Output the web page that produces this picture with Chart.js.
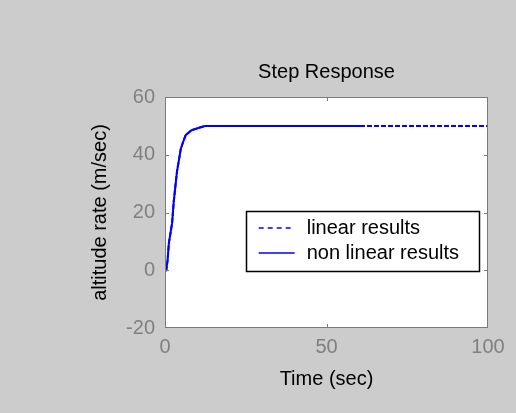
<!DOCTYPE html>
<html>
<head>
<meta charset="utf-8">
<script src="https://cdn.jsdelivr.net/npm/chart.js@4/dist/chart.umd.min.js"></script>
<style>
  html, body { margin: 0; padding: 0; background: #cccccc; }
  canvas { display: block; }
</style>
</head>
<body>
<canvas id="step_chart" width="516" height="413"></canvas>
<script>
// step response of the altitude rate loop
var time_nonlinear = [0, 0.4, 0.8, 1.2, 2.2, 2.7, 3.2, 3.7, 4.3, 4.9, 5.6, 6.4, 8.2, 11.3, 12.5, 61.7];
var rate_nonlinear = [0, 0, 3.5, 9.4, 16.3, 23.7, 28.9, 34.1, 38.1, 42.1, 44.4, 46.8, 48.5, 49.6, 50, 50];
var time_linear = [0, 0.4, 0.8, 1.2, 2.2, 2.7, 3.2, 3.7, 4.3, 4.9, 5.6, 6.4, 8.2, 11.3, 12.5, 100];
var rate_linear = [0, 0, 3.5, 9.4, 16.3, 23.7, 28.9, 34.1, 38.1, 42.1, 44.4, 46.8, 48.5, 49.6, 50, 50];

var series_labels = ['linear results', 'non linear results'];
var x_ticks = [0, 50, 100];
var y_ticks = [-20, 0, 20, 40, 60];

var FONT = "'Liberation Sans', Arial, Helvetica, sans-serif";
var frameColor = '#7a7a7a';

function toPoints(xs, ys) {
    return xs.map(function (x, i) { return { x: x, y: ys[i] }; });
}

// white axes box, grey frame and inward tick marks
var axesBox = {
    id: 'axesBox',
    beforeDatasetsDraw: function (chart) {
        var ctx = chart.ctx, a = chart.chartArea;
        ctx.save();
        ctx.fillStyle = '#ffffff';
        ctx.fillRect(a.left, a.top, a.right - a.left, a.bottom - a.top);
        ctx.restore();
    },
    afterDatasetsDraw: function (chart) {
        var ctx = chart.ctx, a = chart.chartArea;
        var xs = chart.scales.x, ys = chart.scales.y;
        ctx.save();
        ctx.strokeStyle = frameColor;
        ctx.lineWidth = 1;
        ctx.strokeRect(a.left + 0.5, a.top + 0.5, a.right - a.left - 1, a.bottom - a.top - 1);
        ctx.beginPath();
        y_ticks.forEach(function (v) {
            var py = Math.round(ys.getPixelForValue(v)) + 0.5;
            if (py <= a.top + 1 || py >= a.bottom - 1) return;
            ctx.moveTo(a.left, py); ctx.lineTo(a.left + 4, py);
            ctx.moveTo(a.right, py); ctx.lineTo(a.right - 4, py);
        });
        x_ticks.forEach(function (v) {
            var px = Math.round(xs.getPixelForValue(v)) + 0.5;
            if (px <= a.left + 1 || px >= a.right - 1) return;
            ctx.moveTo(px, a.top); ctx.lineTo(px, a.top + 4);
            ctx.moveTo(px, a.bottom); ctx.lineTo(px, a.bottom - 4);
        });
        ctx.stroke();
        ctx.restore();
    }
};

// boxed legend inside the axes, upper right of centre
var boxedLegend = {
    id: 'boxedLegend',
    afterDraw: function (chart) {
        var ctx = chart.ctx, a = chart.chartArea;
        var sets = chart.data.datasets;
        ctx.save();
        ctx.font = '20px ' + FONT;
        var textW = 0;
        sets.forEach(function (ds) { textW = Math.max(textW, ctx.measureText(ds.label).width); });
        var padL = 13, lineLen = 36, gap = 12, padR = 20, rowH = 25;
        var w = padL + lineLen + gap + textW + padR;
        var h = rowH * sets.length + 10;
        var right = a.right - 9;
        var left = right - w;
        var top = a.top + 114;

        ctx.fillStyle = '#ffffff';
        ctx.fillRect(left, top, w, h);
        ctx.strokeStyle = '#000000';
        ctx.lineWidth = 1.5;
        ctx.strokeRect(Math.round(left) + 0.5, top + 0.5, Math.round(w), h);

        sets.forEach(function (ds, i) {
            var cy = top + 17 + i * rowH;
            ctx.beginPath();
            ctx.strokeStyle = ds.borderColor;
            ctx.lineWidth = 1.5;
            ctx.setLineDash(ds.borderDash && ds.borderDash.length ? [5, 4] : []);
            ctx.moveTo(left + padL, cy);
            ctx.lineTo(left + padL + lineLen, cy);
            ctx.stroke();
            ctx.setLineDash([]);
            ctx.fillStyle = '#000000';
            ctx.textBaseline = 'middle';
            ctx.textAlign = 'left';
            ctx.fillText(ds.label, left + padL + lineLen + gap, cy);
        });
        ctx.restore();
    }
};

var ctx = document.getElementById('step_chart').getContext('2d');
var step_chart = new Chart(ctx, {
    type: 'line',
    data: {
        datasets: [
            {
                label: series_labels[0],
                data: toPoints(time_linear, rate_linear),
                borderColor: '#0000ff',
                borderWidth: 2,
                borderDash: [5, 2],
                pointRadius: 0,
                fill: false,
                order: 1
            },
            {
                label: series_labels[1],
                data: toPoints(time_nonlinear, rate_nonlinear),
                borderColor: '#0000ff',
                borderWidth: 2,
                pointRadius: 0,
                fill: false,
                order: 0
            }
        ]
    },
    options: {
        responsive: false,
        animation: false,
        devicePixelRatio: 1,
        layout: { padding: { left: 0, right: 28, top: 0, bottom: 0 } },
        plugins: {
            legend: { display: false },
            tooltip: { enabled: false },
            title: {
                display: true,
                text: 'Step Response',
                fullSize: false,
                color: '#000000',
                font: { family: FONT, size: 20, weight: 'normal' },
                padding: { top: 60.5, bottom: 12.5 }
            }
        },
        scales: {
            x: {
                type: 'linear',
                min: 0,
                max: 100,
                afterBuildTicks: function (scale) {
                    scale.ticks = x_ticks.map(function (v) { return { value: v }; });
                },
                afterFit: function (scale) { scale.height = 85; },
                grid: { display: false, drawTicks: false },
                border: { display: false },
                ticks: {
                    color: '#808080',
                    padding: 7,
                    maxRotation: 0,
                    font: { family: FONT, size: 20 }
                },
                title: {
                    display: true,
                    text: 'Time (sec)',
                    color: '#000000',
                    font: { family: FONT, size: 20 },
                    padding: { top: 0, bottom: 21.5 }
                }
            },
            y: {
                type: 'linear',
                min: -20,
                max: 60,
                afterBuildTicks: function (scale) {
                    scale.ticks = y_ticks.map(function (v) { return { value: v }; });
                },
                afterFit: function (scale) { scale.width = 165; },
                grid: { display: false, drawTicks: false },
                border: { display: false },
                ticks: {
                    color: '#808080',
                    padding: 10,
                    font: { family: FONT, size: 20 }
                },
                title: {
                    display: true,
                    text: 'altitude rate (m/sec)',
                    color: '#000000',
                    font: { family: FONT, size: 20 },
                    padding: { top: 88, bottom: 0 }
                }
            }
        }
    },
    plugins: [axesBox, boxedLegend]
});
</script>
</body>
</html>
